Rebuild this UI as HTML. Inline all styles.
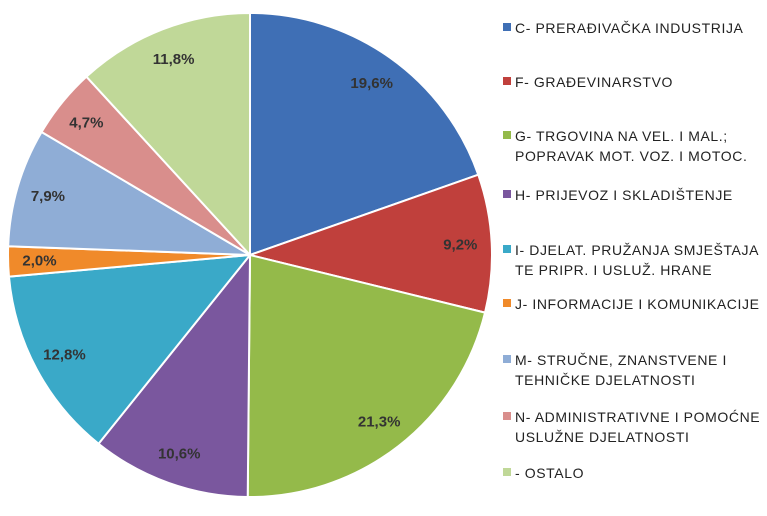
<!DOCTYPE html>
<html><head><meta charset="utf-8"><style>
body{margin:0;background:#fff;}
svg{display:block;font-family:"Liberation Sans",sans-serif;}
</style></head><body>
<svg id="chart" width="767" height="516"></svg>
<script>
const categories=["C- PRERAĐIVAČKA INDUSTRIJA","F- GRAĐEVINARSTVO","G- TRGOVINA NA VEL. I MAL.;|POPRAVAK MOT. VOZ. I MOTOC.","H- PRIJEVOZ I SKLADIŠTENJE","I- DJELAT. PRUŽANJA SMJEŠTAJA|TE PRIPR. I USLUŽ. HRANE","J- INFORMACIJE I KOMUNIKACIJE","M- STRUČNE, ZNANSTVENE I|TEHNIČKE DJELATNOSTI","N- ADMINISTRATIVNE I POMOĆNE|USLUŽNE DJELATNOSTI","- OSTALO"];
const values=[19.6,9.2,21.3,10.6,12.8,2.0,7.9,4.7,11.8];
const valueLabels=["19,6%","9,2%","21,3%","10,6%","12,8%","2,0%","7,9%","4,7%","11,8%"];
const colors=["#3f6fb5","#c0403c","#94ba4a","#7a579e","#3aa9c8","#f08a2a","#8fadd6","#d98e8c","#c0d898"];
const NS="http://www.w3.org/2000/svg";
const svg=document.getElementById("chart");
const cx=250,cy=255,r=242;
const total=values.reduce((a,b)=>a+b,0);
function pt(a,rr){return [cx+rr*Math.sin(a),cy-rr*Math.cos(a)];}
let acc=0;
values.forEach((v,i)=>{
  const a0=acc/total*2*Math.PI; acc+=v; const a1=acc/total*2*Math.PI;
  const p0=pt(a0,r),p1=pt(a1,r);
  const path=document.createElementNS(NS,"path");
  path.setAttribute("d",`M${cx},${cy}L${p0[0]},${p0[1]}A${r},${r} 0 ${a1-a0>Math.PI?1:0} 1 ${p1[0]},${p1[1]}Z`);
  path.setAttribute("fill",colors[i]);
  path.setAttribute("stroke","#fff");
  path.setAttribute("stroke-width","2");
  
  
  svg.appendChild(path);
  const lp=pt((a0+a1)/2,r*0.87);
  const t=document.createElementNS(NS,"text");
  t.setAttribute("x",lp[0]);t.setAttribute("y",lp[1]+5);
  t.setAttribute("text-anchor","middle");t.setAttribute("font-size","15");
  t.setAttribute("font-weight","bold");t.setAttribute("fill","#333");
  t.textContent=valueLabels[i];
  
  
  svg.appendChild(t);
});
const legendY=[28,82,146,195,260,304,370,427,473];
categories.forEach((c,i)=>{
  const lines=c.split("|");
  const y0=legendY[i]-(lines.length-1)*10;
  const g=document.createElementNS(NS,"g");
  
  
  const sq=document.createElementNS(NS,"rect");
  sq.setAttribute("x",503);sq.setAttribute("y",y0-5);sq.setAttribute("width",8);sq.setAttribute("height",8);
  sq.setAttribute("fill",colors[i]);
  
  
  g.appendChild(sq);
  lines.forEach((l,k)=>{
    const t=document.createElementNS(NS,"text");
    t.setAttribute("x",515);t.setAttribute("y",y0+5+k*20);
    t.setAttribute("font-size","14");t.setAttribute("letter-spacing","0.6");t.setAttribute("fill","#222");
    t.textContent=l;
    
    
    g.appendChild(t);
  });
  svg.appendChild(g);
});
</script>
</body></html>
